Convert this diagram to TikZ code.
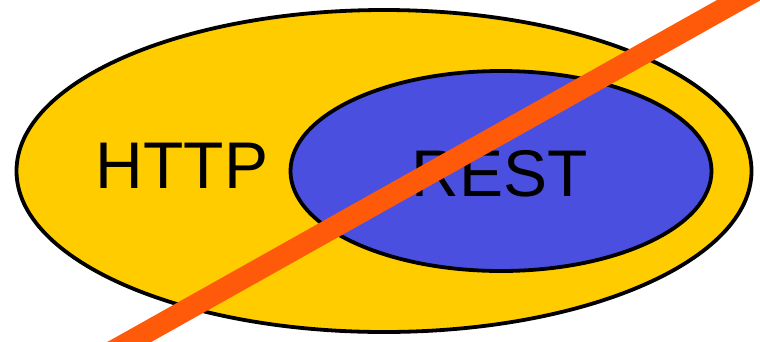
\documentclass[tikz,border=0pt]{standalone}
\usepackage{fontspec}
\setmainfont{Liberation Sans}
\usetikzlibrary{shapes.geometric}
\definecolor{httpyellow}{HTML}{FFCC00}
\definecolor{restblue}{HTML}{4B4FE0}
\definecolor{strikeorange}{HTML}{FF5A0A}
\tikzset{
  set/.style={ellipse, draw=black, line width=3.8pt, inner sep=0pt},
  label/.style={font=\fontsize{66}{70}\selectfont, text=black, inner sep=0pt},
  strike/.style={strikeorange, line width=21.5pt}
}
\begin{document}
\begin{tikzpicture}[x=1pt,y=-1pt]
\useasboundingbox (0,0) rectangle (760,341);
\clip (0,0) rectangle (760,341);
\node[set, fill=httpyellow, minimum width=735pt, minimum height=322pt] (http) at (384,171) {};
\node[set, fill=restblue, minimum width=421pt, minimum height=200pt] (rest) at (501,171) {};
\node[label] (httpt) at (182,166) {HTTP};
\node[label] (restt) at (500,174) {REST};
\coordinate (s1) at (100,358.4);
\coordinate (s2) at (775,-20.2);
\draw[strike] (s1) -- (s2);
\end{tikzpicture}
\end{document}
